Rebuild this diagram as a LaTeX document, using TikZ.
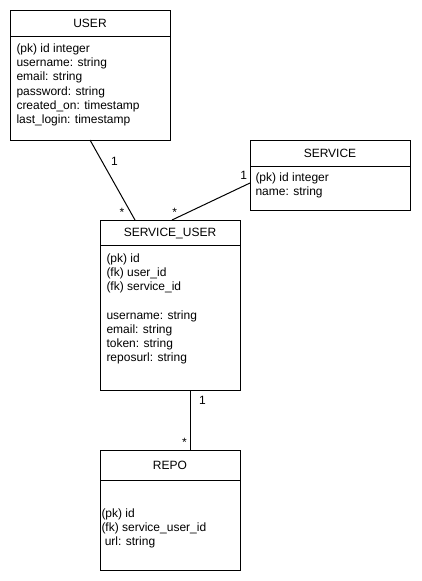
\documentclass[tikz,border=0pt]{standalone}
\usepackage{fontspec}
\setmainfont{Liberation Sans}
\usetikzlibrary{positioning}

\begin{document}
\begin{tikzpicture}[x=1pt, y=-1pt, line width=1pt,
        every node/.style={font=\fontsize{12}{14.2}\selectfont},
        header/.style={draw, minimum height=26pt, inner sep=0pt, outer sep=0pt, text height=8.6pt, text depth=0pt},
        fields/.style={draw, inner sep=0pt, outer sep=0pt},
        fieldtext/.style={align=left, inner sep=0pt, anchor=north west},
        mult/.style={inner sep=0pt, anchor=base}]
        \useasboundingbox (0, 0) rectangle (421, 581);

        % entities
        \node[header, minimum width=160pt] (user) at (90, 23) {USER};
        \node[fields, minimum width=160pt, minimum height=104pt, below=0pt of user] (userf) {};
        \node[fieldtext] (usertxt) at ([xshift=6pt, yshift=-7.3pt]userf.north west)
            {(pk) id integer\\ username: string\\ email: string\\ password: string\\
             created\_on: timestamp\\ last\_login: timestamp};

        \node[header, minimum width=160pt] (service) at (330, 153) {SERVICE};
        \node[fields, minimum width=160pt, minimum height=44pt, below=0pt of service] (servicef) {};
        \node[fieldtext] (servicetxt) at ([xshift=5pt, yshift=-6.3pt]servicef.north west)
            {(pk) id integer\\ name: string};

        \node[header, minimum width=140pt, minimum height=25pt] (su) at (170, 232.5) {SERVICE\_USER};
        \node[fields, minimum width=140pt, minimum height=145pt, below=0pt of su] (suf) {};
        \node[fieldtext] (sutxt) at ([xshift=6pt, yshift=-8pt]suf.north west)
            {(pk) id\\ (fk) user\_id\\ (fk) service\_id\\[14.2pt]
             username: string\\ email: string\\ token: string\\ reposurl: string};

        \node[header, minimum width=140pt, minimum height=30pt] (repo) at (170, 465) {REPO};
        \node[fields, minimum width=140pt, minimum height=90pt, below=0pt of repo] (repof) {};
        \node[fieldtext] (repotxt) at ([xshift=1pt, yshift=-28pt]repof.north west)
            {(pk) id\\ (fk) service\_user\_id\\ \hspace*{3.3pt}url: string};

        % relations
        \draw (userf.south) -- ([xshift=-35pt]su.north);
        \draw ([yshift=5pt]servicef.west) -- ([xshift=2pt]su.north);
        \draw ([xshift=20pt]suf.south) -- ([xshift=20pt]repo.north);

        \node[mult] (m1) at (114.5, 165.7) {1};
        \node[mult] (m2) at (122, 216) {*};
        \node[mult] (m3) at (243.7, 179.3) {1};
        \node[mult] (m4) at (174.7, 216) {*};
        \node[mult] (m5) at (202.5, 404) {1};
        \node[mult] (m6) at (184.5, 446) {*};
    \end{tikzpicture}
\end{document}
